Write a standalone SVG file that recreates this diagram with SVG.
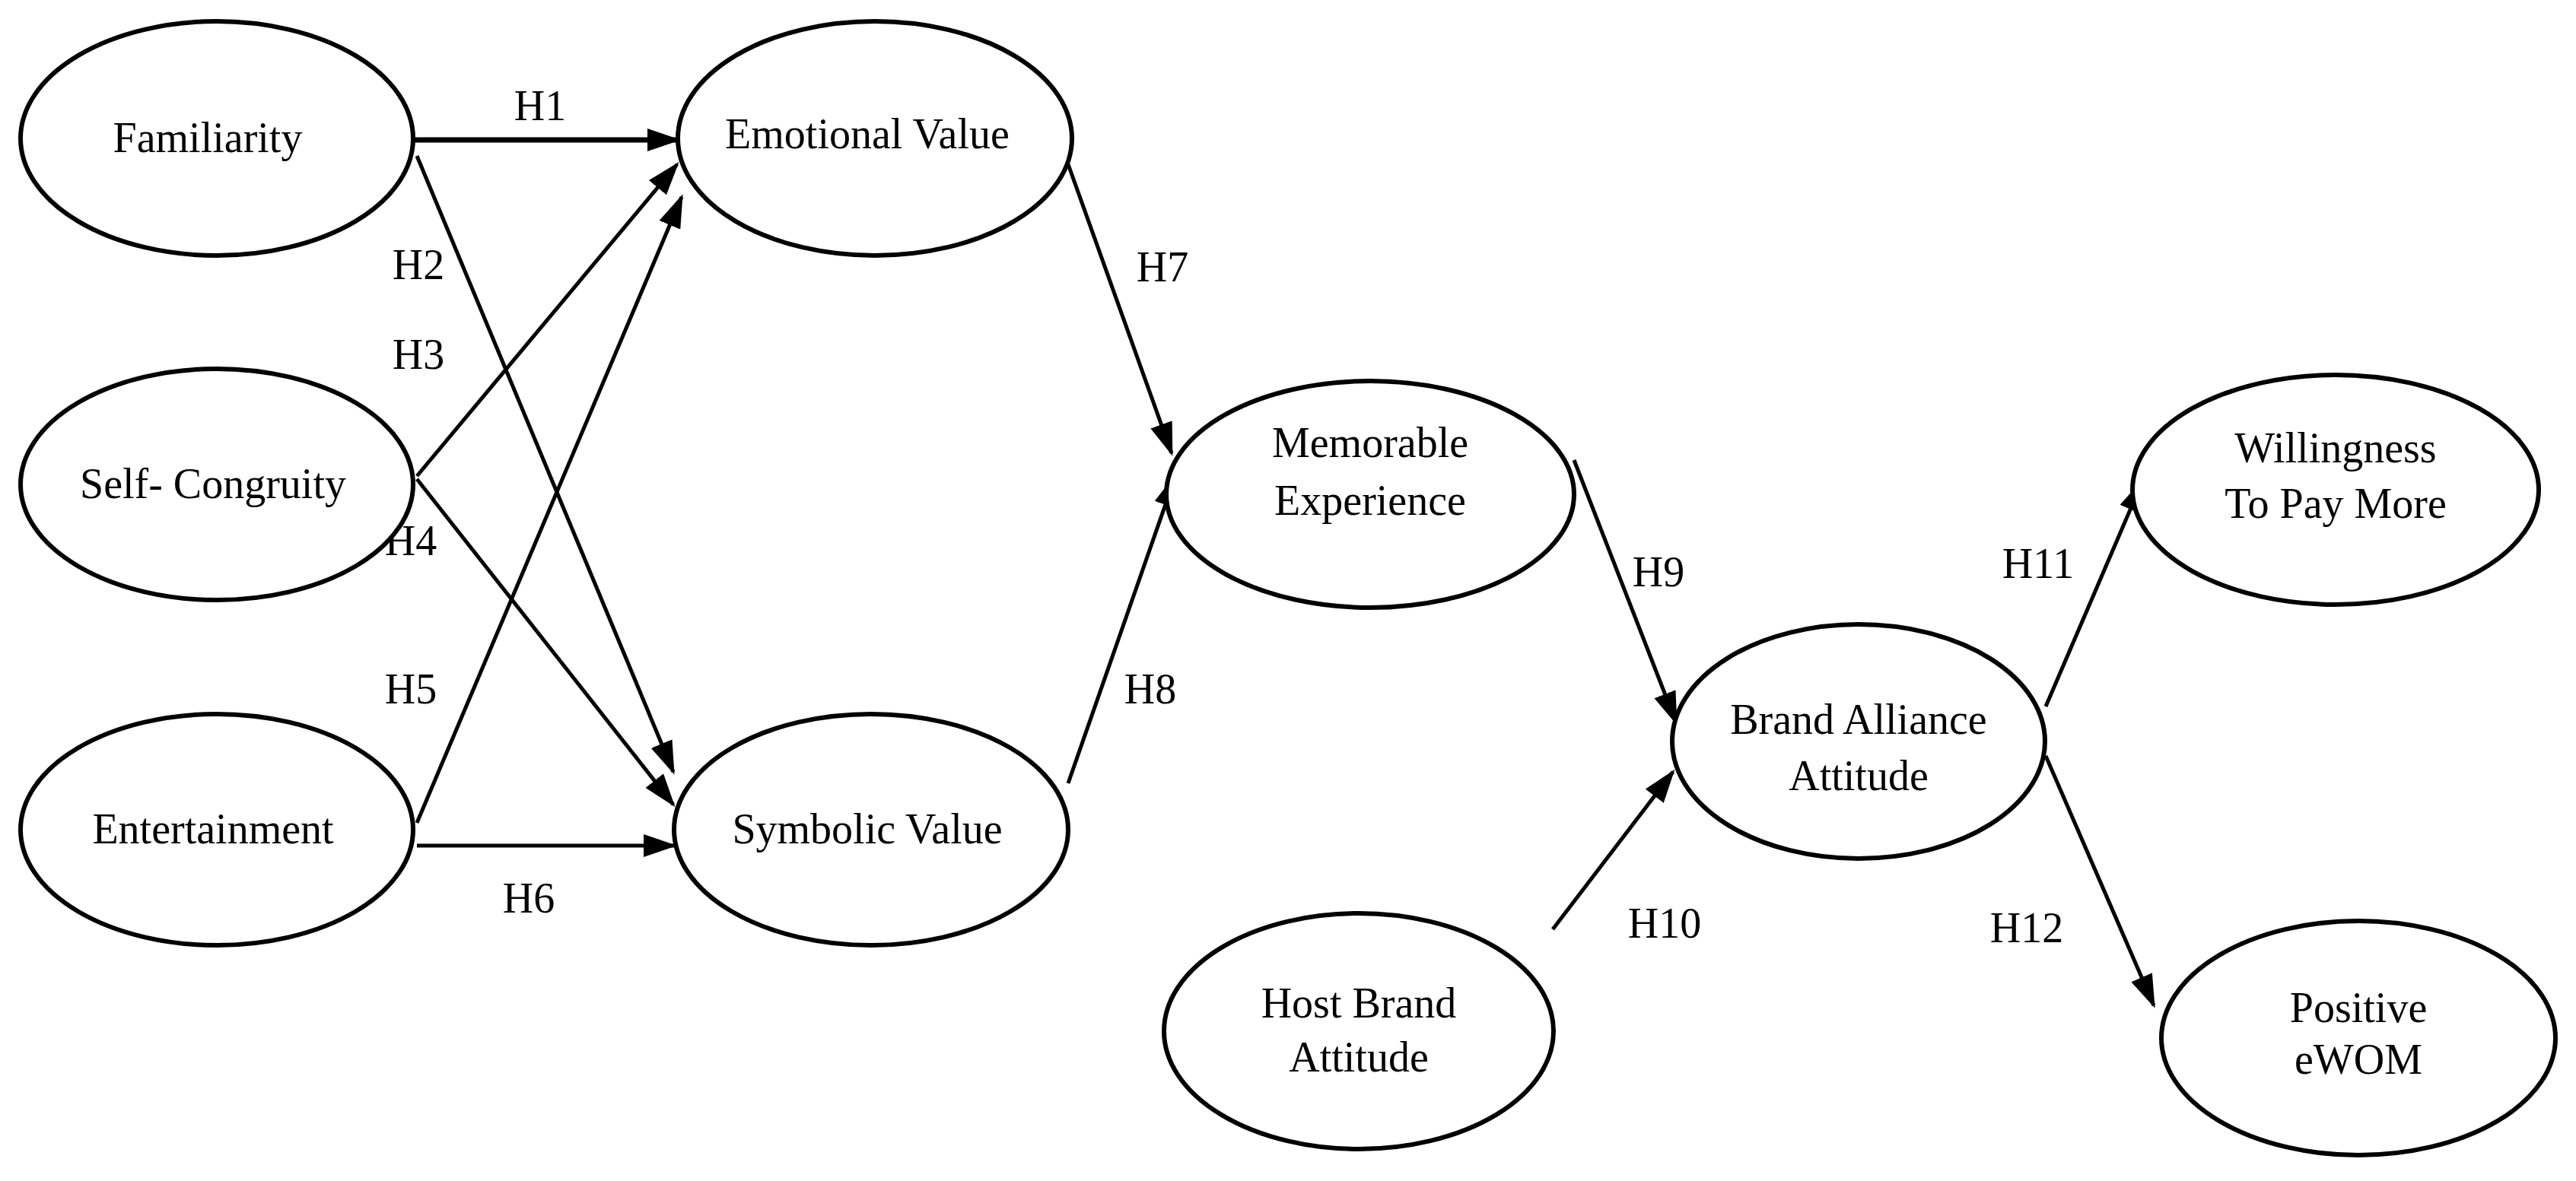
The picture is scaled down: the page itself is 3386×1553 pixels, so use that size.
<svg xmlns="http://www.w3.org/2000/svg" width="3386" height="1553" viewBox="0 0 3386 1553">
<style>
.n{fill:#fff;stroke:#000;stroke-width:6}
.t{font-family:"Liberation Serif",serif;font-size:56px;text-anchor:middle;fill:#000}
.c{stroke:#000;stroke-width:5;fill:none;marker-end:url(#a)}
</style>
<defs><marker id="a" markerUnits="userSpaceOnUse" markerWidth="44" markerHeight="30" refX="40" refY="15" orient="auto"><path d="M0,0 L44,15 L0,30 Z" fill="#000"/></marker></defs>
<rect width="3386" height="1553" fill="#fff"/>
<g id="connectors">
<line class="c" x1="542" y1="184" x2="891" y2="184" style="stroke-width:7"/>
<line class="c" x1="548" y1="205" x2="885" y2="1015"/>
<line class="c" x1="548" y1="626" x2="890" y2="216"/>
<line class="c" x1="548" y1="630" x2="885" y2="1058"/>
<line class="c" x1="548" y1="1082" x2="896" y2="259"/>
<line class="c" x1="548" y1="1112" x2="886" y2="1112"/>
<line class="c" x1="1404" y1="216" x2="1540" y2="596"/>
<line class="c" x1="1404" y1="1030" x2="1545" y2="626"/>
<line class="c" x1="2069" y1="605" x2="2203" y2="950"/>
<line class="c" x1="2041" y1="1222" x2="2199" y2="1015"/>
<line class="c" x1="2689" y1="929" x2="2816" y2="633"/>
<line class="c" x1="2689" y1="994" x2="2831" y2="1322"/>
<text class="t" x="710" y="158">H1</text>
<text class="t" x="550" y="367">H2</text>
<text class="t" x="550" y="485">H3</text>
<text class="t" x="540" y="730">H4</text>
<text class="t" x="540" y="925">H5</text>
<text class="t" x="695" y="1200">H6</text>
<text class="t" x="1528" y="370">H7</text>
<text class="t" x="1512" y="925">H8</text>
<text class="t" x="2180" y="771">H9</text>
<text class="t" x="2188" y="1233">H10</text>
<text class="t" x="2679" y="760">H11</text>
<text class="t" x="2664" y="1239">H12</text>
</g>
<g id="familiarity"><ellipse class="n" cx="285" cy="182" rx="258" ry="154"/><text class="t" x="273" y="200">Familiarity</text></g>
<g id="selfcongruity"><ellipse class="n" cx="285" cy="637" rx="258" ry="152"/><text class="t" x="280" y="655">Self- Congruity</text></g>
<g id="entertainment"><ellipse class="n" cx="285" cy="1091" rx="258" ry="152"/><text class="t" x="280" y="1109">Entertainment</text></g>
<g id="emotional"><ellipse class="n" cx="1150" cy="182" rx="259" ry="154"/><text class="t" x="1140" y="195">Emotional Value</text></g>
<g id="symbolic"><ellipse class="n" cx="1145" cy="1091" rx="259" ry="152"/><text class="t" x="1140" y="1109">Symbolic Value</text></g>
<g id="memorable"><ellipse class="n" cx="1801" cy="650" rx="268" ry="149"/><text class="t" x="1801" y="601">Memorable</text><text class="t" x="1801" y="677">Experience</text></g>
<g id="baa"><ellipse class="n" cx="2443" cy="975" rx="245" ry="154"/><text class="t" x="2443" y="965">Brand Alliance</text><text class="t" x="2443" y="1039">Attitude</text></g>
<g id="host"><ellipse class="n" cx="1786" cy="1356" rx="256" ry="155"/><text class="t" x="1786" y="1338">Host Brand</text><text class="t" x="1786" y="1409">Attitude</text></g>
<g id="willingness"><ellipse class="n" cx="3070" cy="644" rx="267" ry="151"/><text class="t" x="3070" y="608">Willingness</text><text class="t" x="3070" y="681">To Pay More</text></g>
<g id="ewom"><ellipse class="n" cx="3100" cy="1365" rx="259" ry="154"/><text class="t" x="3100" y="1344">Positive</text><text class="t" x="3100" y="1412">eWOM</text></g>
</svg>
